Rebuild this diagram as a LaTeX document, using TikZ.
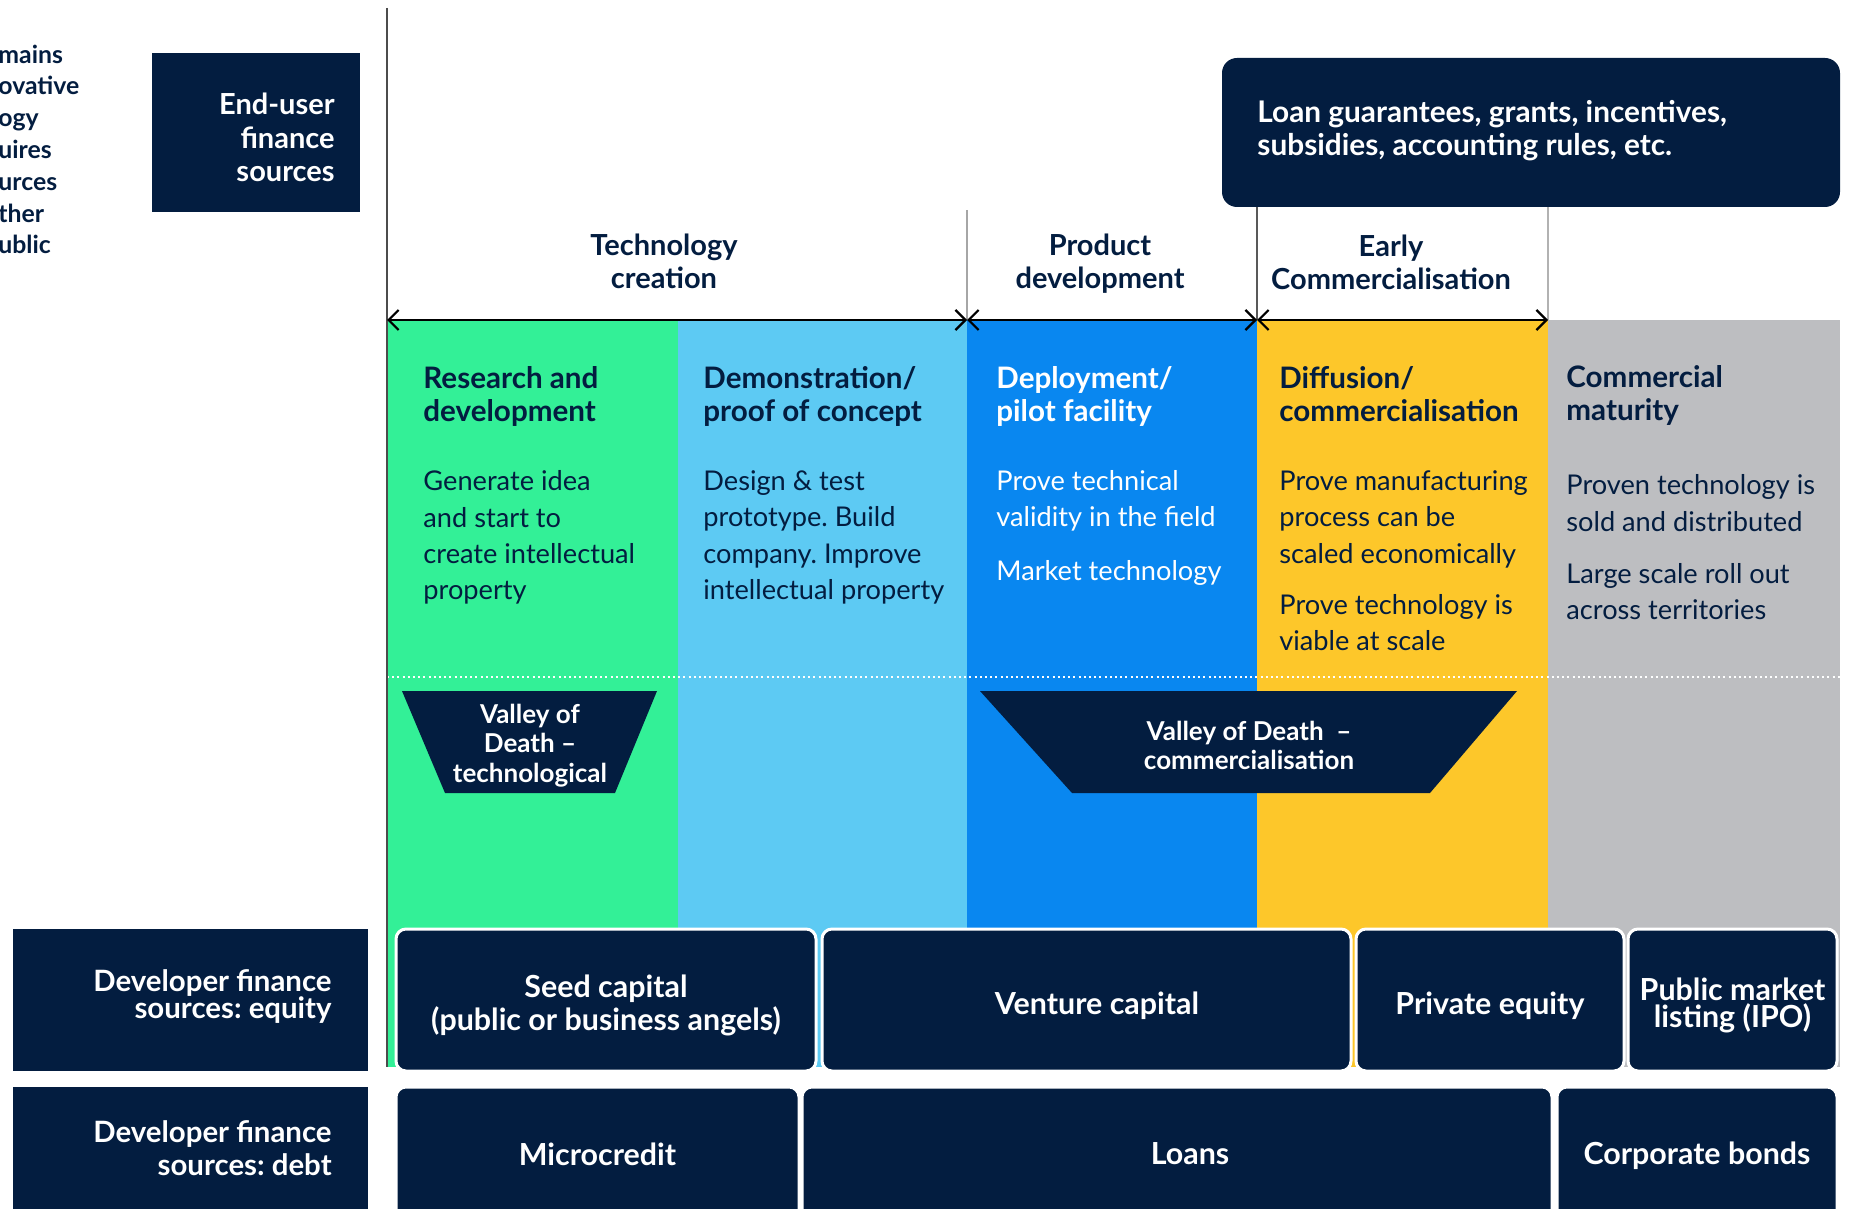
\documentclass[tikz,border=0pt]{standalone}
\usepackage{fontspec}
\setmainfont{Lato}
\usetikzlibrary{arrows.meta}
\definecolor{navy}{HTML}{031D40}
\definecolor{cgreen}{HTML}{33F097}
\definecolor{clblue}{HTML}{5DCAF3}
\definecolor{cblue}{HTML}{0987F0}
\definecolor{cyellow}{HTML}{FDC72A}
\definecolor{cgrey}{HTML}{BDBEC1}
\begin{document}
\frenchspacing
\begin{tikzpicture}[x=0.5pt,y=-0.5pt,
  hdr/.style={font=\bfseries\fontsize{14.8}{16.5}\selectfont, text=navy, align=left, anchor=west, inner sep=0pt},
  body/.style={font=\fontsize{13.6}{18.1}\selectfont, text=navy, align=left, anchor=west, inner sep=0pt},
  phase/.style={font=\bfseries\fontsize{14.5}{16.5}\selectfont, text=navy, align=center, inner sep=0pt},
  fbox/.style={fill=navy, draw=white, line width=1.5pt, rounded corners=5pt, inner sep=0pt},
  ftext/.style={text=white, font=\bfseries\fontsize{15.2}{16.5}\selectfont, align=center, inner sep=0pt},
  lbox/.style={fill=navy, inner sep=0pt, minimum width=177.5pt},
  ltext/.style={text=white, font=\bfseries\fontsize{14.7}{13.5}\selectfont, align=right, anchor=east, inner sep=0pt},
  vod/.style={fill=navy},
  vodtext/.style={text=white, font=\bfseries\fontsize{13}{14.75}\selectfont, align=center, inner sep=0pt},
  arr/.style={{Straight Barb[length=5pt,width=10pt]}-{Straight Barb[length=5pt,width=10pt]}, line width=1.1pt, black},
  sep/.style={line width=0.6pt}
]
\useasboundingbox (0,0) rectangle (1849,1209);
\clip (0,0) rectangle (1849,1209);

% colour columns
\fill[cgreen] (387,320) rectangle (678,1067);
\fill[clblue] (678,320) rectangle (967,1067);
\fill[cblue] (967,320) rectangle (1257,1067);
\fill[cyellow] (1257,320) rectangle (1548,1067);
\fill[cgrey] (1548,320) rectangle (1840,1067);

% dotted line
\draw[white, line width=1pt, dash pattern=on 1pt off 1.6pt] (387,677) -- (1840,677);

% valleys of death
\fill[vod] (402,691) -- (657,691) -- (615,793) -- (445,793) -- cycle;
\node[vodtext] (vodt) at (530,745.5) {Valley of\\Death --\\technological};
\fill[vod] (980,691) -- (1517,691) -- (1430,793) -- (1072,793) -- cycle;
\node[vodtext] (vodc) at (1249,745.5) {Valley of Death~~--\\commercialisation};

% axis and separators
\draw[line width=1pt, black!70] (387,8) -- (387,1067);
\draw[sep, black!35] (967,210) -- (967,320);
\draw[sep, black!65] (1257,207) -- (1257,320);
\draw[sep, black!30] (1548,207) -- (1548,320);

% arrows
\coordinate (a0) at (387,320);
\coordinate (a1) at (967,320);
\coordinate (a2) at (1257,320);
\coordinate (a3) at (1548,320);
\draw[arr] (a0) -- (a1);
\draw[arr] (a1) -- (a2);
\draw[arr] (a2) -- (a3);

% phase labels
\node[phase] (ptc) at (664,261.5) {Technology\\creation};
\node[phase] (ppd) at (1100,264) {Product\\development};
\node[phase] (pec) at (1391,262.5) {Early\\Commercialisation};

% left cut-off text
\node[font=\bfseries\fontsize{12.4}{15.9}\selectfont, text=navy, align=left, anchor=west, inner sep=0pt]
  (lefttext) at (-2,149.5) {mains\\ovative\\ogy\\uires\\urces\\ther\\ublic};

% end-user box
\node[fill=navy, minimum width=104pt, minimum height=79.5pt] (enduser) at (256,132.5) {};
\node[ltext, font=\bfseries\fontsize{14.5}{16.75}\selectfont] (endusert) at (335,137.5) {End-user\\finance\\sources};

% loan box
\node[fbox, rounded corners=7.5pt, draw=none, minimum width=309pt, minimum height=74.5pt] (loanbox) at (1531,132.5) {};
\node[text=white, font=\bfseries\fontsize{14.9}{16.5}\selectfont, align=left, anchor=west, inner sep=0pt]
  (loantext) at (1257,131) {Loan guarantees, grants, incentives,\\subsidies, accounting rules, etc.};

% column headers
\node[hdr] (h1) at (423,396) {Research and\\development};
\node[hdr] (h2) at (703,396) {Demonstration/\\proof of concept};
\node[hdr, text=white] (h3) at (996,396) {Deployment/\\pilot facility};
\node[hdr] (h4) at (1279,394) {Diffusion/\\commercialisation};
\node[hdr] (h5) at (1566,395.5) {Commercial\\maturity};

% column bodies
\node[body] (b1) at (423,537.5) {Generate idea\\and start to\\create intellectual\\property};
\node[body] (b2) at (703,537.5) {Design \& test\\prototype. Build\\company. Improve\\intellectual property};
\node[body, text=white] (b3) at (996,528) {Prove technical\\validity in the field\\[8.75pt]Market technology};
\node[body] (b4) at (1279,561) {Prove manufacturing\\process can be\\scaled economically\\[7.75pt]Prove technology is\\viable at scale};
\node[body] (b5) at (1566,547.5) {Proven technology is\\sold and distributed\\[8.25pt]Large scale roll out\\across territories};

% developer label boxes
\node[lbox, minimum height=71pt] (deveq) at (190.5,1000) {};
\node[ltext] (deveqt) at (332,997) {Developer finance\\sources: equity};
\node[lbox, minimum height=67pt] (devdebt) at (190.5,1154) {};
\node[ltext, font=\bfseries\fontsize{14.7}{16.5}\selectfont] (devdebtt) at (332,1148) {Developer finance\\sources: debt};

% equity row
\node[fbox, minimum width=210pt, minimum height=71pt] (seed) at (606,1000) {};
\node[ftext] (seedt) at (606,1005.5) {Seed capital\\(public or business angels)};
\node[fbox, minimum width=264.5pt, minimum height=71pt] (vc) at (1086.5,1000) {};
\node[ftext] (vct) at (1097,1005.5) {Venture capital};
\node[fbox, minimum width=134pt, minimum height=71pt] (pe) at (1490,1000) {};
\node[ftext] (pet) at (1490,1005.5) {Private equity};
\node[fbox, minimum width=104.5pt, minimum height=71pt] (ipo) at (1732.5,1000) {};
\node[ftext, font=\bfseries\fontsize{15.2}{13.5}\selectfont] (ipot) at (1732.5,1005.5) {Public market\\listing (IPO)};

% debt row
\node[fbox, minimum width=201.5pt, minimum height=67pt] (micro) at (597.5,1154) {};
\node[ftext] (microt) at (597.5,1154) {Microcredit};
\node[fbox, minimum width=375pt, minimum height=67pt] (loans) at (1177,1154) {};
\node[ftext] (loanst) at (1190,1154) {Loans};
\node[fbox, minimum width=140pt, minimum height=67pt] (bonds) at (1697,1154) {};
\node[ftext] (bondst) at (1697,1156) {Corporate bonds};
\end{tikzpicture}
\end{document}
